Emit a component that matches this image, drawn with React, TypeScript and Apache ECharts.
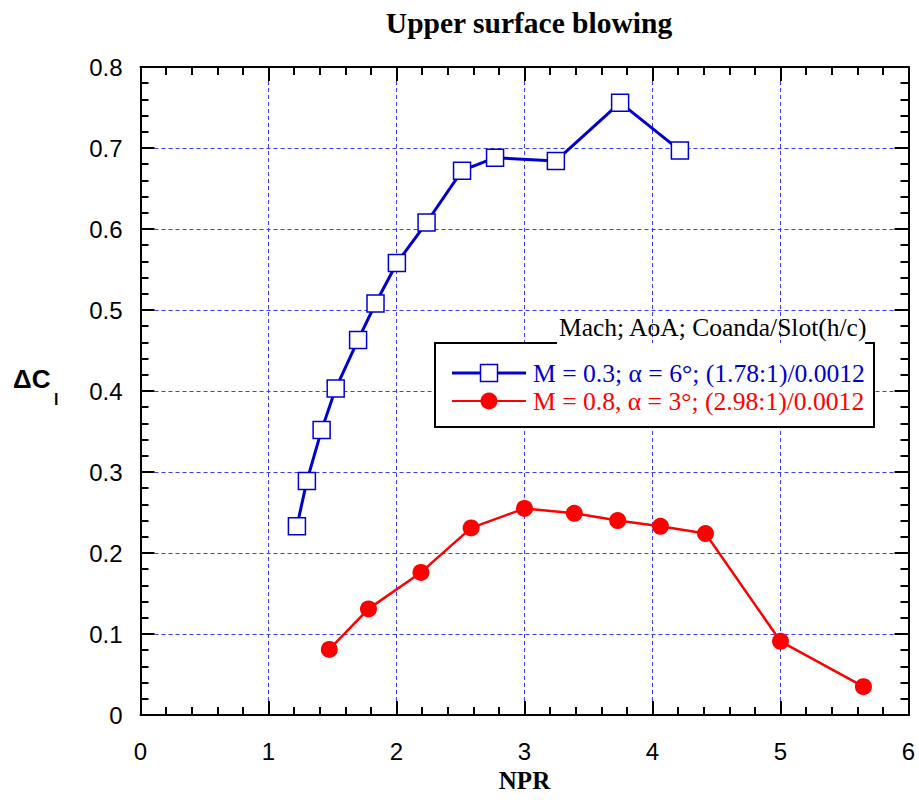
import React, { useEffect, useRef } from "react";
import * as echarts from "echarts";

const chartTitle = "Upper surface blowing";
const xAxisName = "NPR";
const legendTitle = "Mach; AoA; Coanda/Slot(h/c)";
const seriesNames = [
  "M = 0.3; α = 6°; (1.78:1)/0.0012",
  "M = 0.8, α = 3°; (2.98:1)/0.0012",
];
const seriesColors = ["#0000d0", "#ff0000"];

const blueNPR = [1.222, 1.3, 1.415, 1.525, 1.7, 1.836, 2.003, 2.235, 2.512, 2.77, 3.245, 3.747, 4.214];
const blueDCl = [0.233, 0.289, 0.352, 0.403, 0.463, 0.508, 0.558, 0.608, 0.672, 0.688, 0.684, 0.756, 0.697];
const redNPR = [1.475, 1.781, 2.191, 2.583, 3.0, 3.389, 3.728, 4.062, 4.414, 5.0, 5.648];
const redDCl = [0.081, 0.131, 0.176, 0.231, 0.255, 0.249, 0.24, 0.233, 0.224, 0.091, 0.035];

const xRange = [0, 6];
const yRange = [0, 0.8];

const zip = (xs: number[], ys: number[]) => xs.map((x, i) => [x, ys[i]]);

export default function App() {
  const ref = useRef<HTMLDivElement>(null);
  useEffect(() => {
    if (!ref.current) return;
    const chart = echarts.init(ref.current, null, { renderer: "svg" });
    const axisLine = { show: true, onZero: false, lineStyle: { color: "#000", width: 2 } };
    const axisTick = { show: true, inside: true, length: 14, lineStyle: { color: "#000", width: 2 } };
    const minorTick = { show: true, splitNumber: 5, length: 8, lineStyle: { color: "#000", width: 2 } };
    const splitLine = { show: true, lineStyle: { color: "#3c3cff", width: 1, type: [4, 3] } };
    const labelStyle = { color: "#000", fontSize: 24, fontFamily: "Liberation Sans" };
    const serif = "Liberation Serif";
    const legX = 435, legR = 874, legT = 343, legB = 427;
    const row1 = 373, row2 = 401;
    const option: any = {
      animation: false,
      backgroundColor: "#fff",
      title: {
        text: chartTitle,
        left: 524,
        textAlign: "center",
        top: 3,
        textStyle: { fontFamily: serif, fontWeight: "bold", fontSize: 29.5, color: "#000" },
      },
      grid: { left: 140.5, right: 10.5, top: 67, bottom: 85, containLabel: false },
      xAxis: [
        {
          type: "value", min: xRange[0], max: xRange[1], interval: 1, position: "bottom",
          axisLine, axisTick, minorTick, splitLine,
          axisLabel: { ...labelStyle, margin: 24 },
          name: xAxisName, nameLocation: "middle", nameGap: 53,
          nameTextStyle: { fontFamily: serif, fontWeight: "bold", fontSize: 25, color: "#000" },
        },
        {
          type: "value", min: xRange[0], max: xRange[1], interval: 1, position: "top",
          axisLine, axisTick, minorTick, splitLine: { show: false }, axisLabel: { show: false },
        },
      ],
      yAxis: [
        {
          type: "value", min: yRange[0], max: yRange[1], interval: 0.1, position: "left",
          axisLine, axisTick, minorTick, splitLine,
          axisLabel: { ...labelStyle, margin: 18 },
        },
        {
          type: "value", min: yRange[0], max: yRange[1], interval: 0.1, position: "right",
          axisLine, axisTick, minorTick, splitLine: { show: false }, axisLabel: { show: false },
        },
      ],
      series: [
        {
          name: seriesNames[0], type: "line", data: zip(blueNPR, blueDCl),
          symbol: "rect", symbolSize: 17, z: 3,
          lineStyle: { color: seriesColors[0], width: 3 },
          itemStyle: { color: "#fff", borderColor: seriesColors[0], borderWidth: 1.5 },
        },
        {
          name: seriesNames[1], type: "line", data: zip(redNPR, redDCl),
          symbol: "circle", symbolSize: 17, z: 3,
          lineStyle: { color: seriesColors[1], width: 2.5 },
          itemStyle: { color: seriesColors[1] },
        },
      ],
      graphic: [
        {
          type: "text", left: 13, top: 366, z: 10,
          style: { text: "ΔC", font: "bold 26px 'Liberation Sans'", fill: "#000" },
        },
        {
          type: "text", left: 54, top: 391, z: 10,
          style: { text: "l", font: "bold 16px 'Liberation Sans'", fill: "#000" },
        },
        {
          type: "rect", z: 9,
          shape: { x: legX, y: legT, width: legR - legX, height: legB - legT },
          style: { fill: "#fff", stroke: null },
        },
        {
          type: "polyline", z: 10,
          shape: { points: [[557, legT], [legX, legT], [legX, legB], [legR, legB], [legR, legT], [865, legT]] },
          style: { stroke: "#000", lineWidth: 2, fill: null },
        },
        {
          type: "text", x: 559, y: 327, z: 10,
          style: { text: legendTitle, font: `25.5px '${serif}'`, fill: "#000", verticalAlign: "middle" },
        },
        {
          type: "line", z: 10,
          shape: { x1: 452, y1: row1, x2: 526, y2: row1 },
          style: { stroke: seriesColors[0], lineWidth: 3 },
        },
        {
          type: "rect", z: 11,
          shape: { x: 489 - 8.5, y: row1 - 8.5, width: 17, height: 17 },
          style: { fill: "#fff", stroke: seriesColors[0], lineWidth: 1.5 },
        },
        {
          type: "text", x: 533, y: row1, z: 10,
          style: { text: seriesNames[0], font: `25.6px '${serif}'`, fill: seriesColors[0], verticalAlign: "middle" },
        },
        {
          type: "line", z: 10,
          shape: { x1: 452, y1: row2, x2: 526, y2: row2 },
          style: { stroke: seriesColors[1], lineWidth: 2 },
        },
        {
          type: "circle", z: 11,
          shape: { cx: 489, cy: row2, r: 8.5 },
          style: { fill: seriesColors[1] },
        },
        {
          type: "text", x: 533, y: row2, z: 10,
          style: { text: seriesNames[1], font: `25.6px '${serif}'`, fill: seriesColors[1], verticalAlign: "middle" },
        },
      ],
    };
    chart.setOption(option);
    return () => chart.dispose();
  }, []);
  return (
    <div
      ref={ref}
      style={{ position: "fixed", left: 0, top: 0, width: 919, height: 800, background: "#fff" }}
    />
  );
}
